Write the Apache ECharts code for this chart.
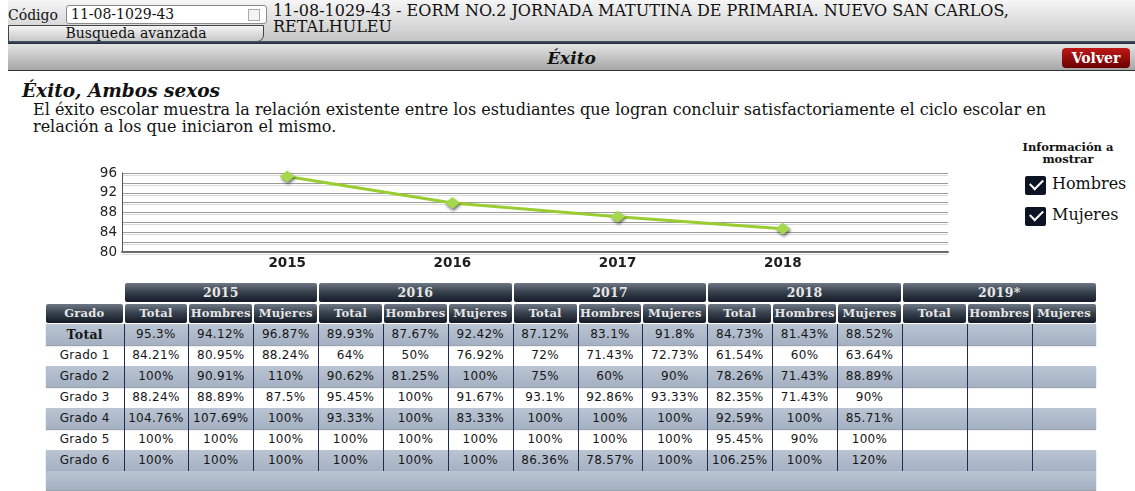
<!DOCTYPE html>
<html>
<head>
<meta charset="utf-8">
<script src="https://cdn.jsdelivr.net/npm/echarts@6/dist/echarts.min.js"></script>
<style>
    body{margin:0;width:1135px;height:491px;overflow:hidden;background:#fff;position:relative;font-family:"DejaVu Serif",serif;color:#111;}
    .abs{position:absolute;}
    .topBar{left:8px;top:0;width:1127px;height:41px;background:linear-gradient(#f6f6f6,#c6c6c6);}
    .codigo{left:8px;top:7px;font-size:14px;}
    .codInput{left:66px;top:5px;width:195px;height:17px;background:#fff;border:1px solid #8a8a8a;border-radius:3px;font-size:14px;line-height:17px;padding-left:4px;box-sizing:content-box;}
    .codInput span{position:absolute;right:6px;top:3px;width:10px;height:10px;border:1px solid #aaa;background:#f4f4f4;}
    .busqueda{left:8px;top:25px;width:254px;height:15px;background:linear-gradient(#f4f4f4,#c8c8c8);border:1px solid #444;border-radius:0 0 7px 0;font-size:14px;line-height:15px;text-align:center;}
    .titulo{left:273px;top:3px;font-size:16px;line-height:16px;}
    .darkLine{left:8px;top:41px;width:1127px;height:3px;background:linear-gradient(#4a5a6a,#1c2838);}
    .exitoBar{left:8px;top:44px;width:1127px;height:26px;background:linear-gradient(#e4e4e4,#a6a6a6);border-bottom:1px solid #333;}
    .exitoBar b{position:absolute;left:0;width:1127px;top:4px;text-align:center;font-size:17px;font-style:italic;}
    .volver{left:1062px;top:48px;width:68px;height:20px;border-radius:4px;background:linear-gradient(#c01818,#6a0000);color:#fff;font-weight:bold;font-size:14px;line-height:20px;text-align:center;}
    .subTitulo{left:22px;top:80px;font-size:18.5px;font-weight:bold;font-style:italic;}
    .desc{left:33px;top:101px;font-size:16px;line-height:17px;}
    .info{left:1010px;top:141px;width:116px;text-align:center;font-size:11.5px;font-weight:bold;line-height:12px;}
    .chk{width:21px;height:19px;background:#0c1424;border-radius:2px;}
    .chk:after{content:"";position:absolute;left:5px;top:3px;width:11px;height:6px;border-left:2px solid #fff;border-bottom:2px solid #fff;transform:rotate(-45deg);}
    .chkLabel{font-size:16px;}
    #chart{left:0;top:150px;width:960px;height:125px;}
    .cell{position:absolute;box-sizing:border-box;text-align:center;font-family:"DejaVu Sans",sans-serif;white-space:nowrap;}
    .hd{background:linear-gradient(#6e7885 0%,#3a4350 45%,#131a26 100%);color:#e6e6e6;font-family:"DejaVu Serif",serif;font-weight:bold;font-size:11.5px;letter-spacing:0.2px;line-height:19px;border-radius:2px;}
    .hdYear{font-size:12.5px;}
    .row{position:absolute;left:46px;width:1050px;height:21px;}
    .shade{background:linear-gradient(#bac4d2,#a4b1c3);box-shadow:0 1px 1px rgba(60,70,90,0.5);}
    .dat{font-size:12px;letter-spacing:0.3px;line-height:21px;color:#161616;}
    .vline{position:absolute;width:1px;background:#1e2c52;}
</style>
</head>
<body>
<div class="abs topBar"></div>
<div class="abs codigo">Código</div>
<div class="abs codInput">11-08-1029-43<span></span></div>
<div class="abs busqueda">Busqueda avanzada</div>
<div class="abs titulo">11-08-1029-43 - EORM NO.2 JORNADA MATUTINA DE PRIMARIA. NUEVO SAN CARLOS,<br>RETALHULEU</div>
<div class="abs darkLine"></div>
<div class="abs exitoBar"><b>Éxito</b></div>
<div class="abs volver">Volver</div>
<div class="abs subTitulo">Éxito, Ambos sexos</div>
<div class="abs desc">El éxito escolar muestra la relación existente entre los estudiantes que logran concluir satisfactoriamente el ciclo escolar en<br>relación a los que iniciaron el mismo.</div>
<div class="abs info">Información a<br>mostrar</div>
<div class="abs chk" style="left:1025px;top:176px;"></div>
<div class="abs chkLabel" style="left:1052px;top:174px;">Hombres</div>
<div class="abs chk" style="left:1025px;top:207px;"></div>
<div class="abs chkLabel" style="left:1052px;top:205px;">Mujeres</div>
<div id="chart" class="abs"></div>
<div id="tabla"></div>
<script>
    // datos del grafico (exito total por año)
    var anios = [2015, 2016, 2017, 2018];
    var exitoTotal = [95.3, 89.93, 87.12, 84.73];
    var yTicks = [80, 84, 88, 92, 96];

    // datos de la tabla
    var aniosTabla = ['2015', '2016', '2017', '2018', '2019*'];
    var subCols = ['Total', 'Hombres', 'Mujeres'];
    var grados = ['Total', 'Grado 1', 'Grado 2', 'Grado 3', 'Grado 4', 'Grado 5', 'Grado 6'];
    var tabla2015 = [
        ['95.3%', '94.12%', '96.87%'],
        ['84.21%', '80.95%', '88.24%'],
        ['100%', '90.91%', '110%'],
        ['88.24%', '88.89%', '87.5%'],
        ['104.76%', '107.69%', '100%'],
        ['100%', '100%', '100%'],
        ['100%', '100%', '100%']
    ];
    var tabla2016 = [
        ['89.93%', '87.67%', '92.42%'],
        ['64%', '50%', '76.92%'],
        ['90.62%', '81.25%', '100%'],
        ['95.45%', '100%', '91.67%'],
        ['93.33%', '100%', '83.33%'],
        ['100%', '100%', '100%'],
        ['100%', '100%', '100%']
    ];
    var tabla2017 = [
        ['87.12%', '83.1%', '91.8%'],
        ['72%', '71.43%', '72.73%'],
        ['75%', '60%', '90%'],
        ['93.1%', '92.86%', '93.33%'],
        ['100%', '100%', '100%'],
        ['100%', '100%', '100%'],
        ['86.36%', '78.57%', '100%']
    ];
    var tabla2018 = [
        ['84.73%', '81.43%', '88.52%'],
        ['61.54%', '60%', '63.64%'],
        ['78.26%', '71.43%', '88.89%'],
        ['82.35%', '71.43%', '90%'],
        ['92.59%', '100%', '85.71%'],
        ['95.45%', '90%', '100%'],
        ['106.25%', '100%', '120%']
    ];
    var tabla2019 = [[], [], [], [], [], [], []];
    var tablas = [tabla2015, tabla2016, tabla2017, tabla2018, tabla2019];

    // ---- tabla ----
    var cont = document.getElementById('tabla');
    var x0 = 46, gradoW = 77.5, colW = 64.87;
    var yHd1 = 283, yHd2 = 304, yRows = 324, rowH = 21;
    function addDiv(cls, x, y, w, h, txt) {
        var d = document.createElement('div');
        d.className = cls;
        d.style.left = x + 'px'; d.style.top = y + 'px';
        d.style.width = w + 'px'; d.style.height = h + 'px';
        if (txt !== undefined) d.textContent = txt;
        cont.appendChild(d);
        return d;
    }
    // filas sombreadas
    for (var r = 0; r < grados.length; r++) {
        if (r % 2 === 0) addDiv('row shade', x0, yRows + r * rowH, 1050, rowH);
    }
    addDiv('row shade', x0, yRows + grados.length * rowH, 1050, 19);
    // encabezados
    for (var a = 0; a < aniosTabla.length; a++) {
        var gx = x0 + gradoW + a * 3 * colW;
        addDiv('cell hd hdYear', gx + 1, yHd1, 3 * colW - 2, 19, aniosTabla[a]);
        for (var s = 0; s < 3; s++) {
            addDiv('cell hd', gx + s * colW + 1, yHd2, colW - 2, 19, subCols[s]);
        }
    }
    addDiv('cell hd', x0, yHd2, gradoW - 1, 19, 'Grado');
    // datos
    for (var r = 0; r < grados.length; r++) {
        var ry = yRows + r * rowH;
        var g = addDiv('cell dat', x0, ry, gradoW, rowH, grados[r]);
        if (r === 0) { g.style.fontWeight = 'bold'; g.style.fontFamily = 'DejaVu Serif'; g.style.fontSize = '12.5px'; }
        for (var a = 0; a < tablas.length; a++) {
            for (var s = 0; s < 3; s++) {
                var v = tablas[a][r][s];
                addDiv('cell dat', x0 + gradoW + (a * 3 + s) * colW, ry, colW, rowH, v === undefined ? '' : v);
            }
        }
    }
    // lineas verticales
    for (var k = 0; k < 15; k++) {
        addDiv('vline', Math.round(x0 + gradoW + k * colW), yRows, 1, grados.length * rowH);
    }

    // ---- grafico ----
    var myChart = echarts.init(document.getElementById('chart'));
    myChart.setOption({
        animation: false,
        grid: {left: 122, right: 12, top: 23, bottom: 23},
        xAxis: {
            type: 'value',
            min: 2014,
            max: 2019,
            interval: 1,
            axisLine: {lineStyle: {color: '#6a6a6a', width: 2}},
            axisTick: {show: false},
            splitLine: {show: false},
            axisLabel: {
                margin: 4,
                color: '#1e1e1e',
                fontSize: 13.5,
                fontWeight: 'bold',
                fontFamily: 'DejaVu Sans',
                formatter: function (v) {
                    return anios.indexOf(v) >= 0 ? String(v) : '';
                }
            }
        },
        yAxis: {
            type: 'value',
            min: 80,
            max: 96,
            interval: 2,
            axisLine: {show: true, lineStyle: {color: '#555'}},
            axisTick: {show: false},
            splitLine: {
                lineStyle: {color: '#9c9c9c', width: 1, shadowColor: '#dadada', shadowOffsetY: 2}
            },
            axisLabel: {
                margin: 5,
                color: '#222',
                fontSize: 13.5,
                fontFamily: 'DejaVu Sans',
                formatter: function (v) {
                    return yTicks.indexOf(v) >= 0 ? String(v) : '';
                }
            }
        },
        series: [{
            type: 'line',
            data: anios.map(function (y, i) { return [y, exitoTotal[i]]; }),
            symbol: 'diamond',
            symbolSize: [15, 12],
            lineStyle: {color: '#9acd32', width: 3},
            itemStyle: {
                color: '#a6d84c',
                shadowColor: 'rgba(0,0,0,0.55)',
                shadowBlur: 3,
                shadowOffsetX: 1,
                shadowOffsetY: 2
            }
        }]
    });
</script>
</body>
</html>
